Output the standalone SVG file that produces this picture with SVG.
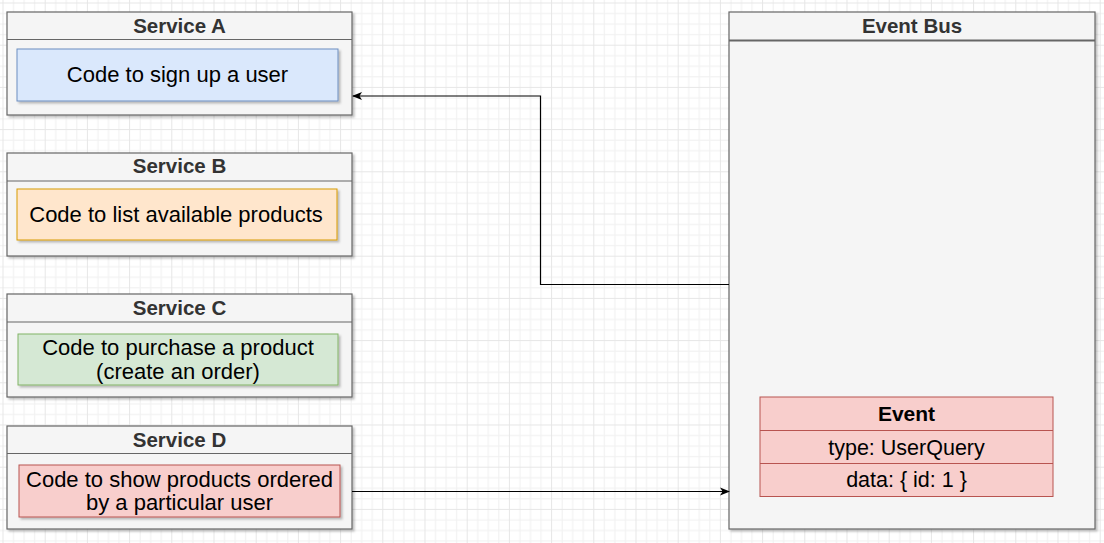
<svg xmlns="http://www.w3.org/2000/svg" width="1104" height="543" viewBox="0 0 1104 543">
  <defs>
    <pattern id="grid" x="2.5" y="2.5" width="42.2" height="42.2" patternUnits="userSpaceOnUse">
      <path d="M0 0.5H42.2M0 11.05H42.2M0 21.6H42.2M0 32.15H42.2" stroke="#f0f0f0" stroke-width="1" fill="none"/>
      <path d="M0.5 0V42.2M11.05 0V42.2M21.6 0V42.2M32.15 0V42.2" stroke="#f0f0f0" stroke-width="1" fill="none"/>
      <path d="M0 0.5H42.2M0.5 0V42.2" stroke="#e6e6e6" stroke-width="1" fill="none"/>
    </pattern>
    <filter id="shadow" x="-5%" y="-5%" width="112%" height="115%">
      <feDropShadow dx="2" dy="2" stdDeviation="1.2" flood-color="#000000" flood-opacity="0.25"/>
    </filter>
    <marker id="arrow" viewBox="0 0 10 10" refX="9" refY="5" markerWidth="10" markerHeight="10" markerUnits="userSpaceOnUse" orient="auto">
      <path d="M0 1 L10 5 L0 9 L2.5 5 Z" fill="#000000"/>
    </marker>
  </defs>
  <style>
    .outer { fill: #f5f5f5; stroke: #666666; stroke-width: 1.2; filter: url(#shadow); }
    .hdrline { stroke: #666666; stroke-width: 1.2; }
    .hdr { font-family: "Liberation Sans", Arial, sans-serif; font-size: 20.5px; font-weight: bold; fill: #333333; text-anchor: middle; }
    .body { font-family: "Liberation Sans", Arial, sans-serif; font-size: 22px; fill: #000000; text-anchor: middle; }
    .blue { fill: #dae8fc; stroke: #6c8ebf; stroke-width: 1; filter: url(#shadow); }
    .orange { fill: #ffe6cc; stroke: #d79b00; stroke-width: 1; filter: url(#shadow); }
    .green { fill: #d5e8d4; stroke: #82b366; stroke-width: 1; filter: url(#shadow); }
    .red { fill: #f8cecc; stroke: #b85450; stroke-width: 1; filter: url(#shadow); }
    .redplain { fill: #f8cecc; stroke: #b85450; stroke-width: 1; }
    .conn { fill: none; stroke: #000000; stroke-width: 1.2; }
  </style>
  <rect width="1104" height="543" fill="#ffffff"/>
  <rect width="1104" height="543" fill="url(#grid)"/>

  <g id="service-a">
    <rect class="outer" x="7" y="12" width="345" height="103"/>
    <line class="hdrline" x1="7" y1="39.5" x2="352" y2="39.5"/>
    <text class="hdr" x="179.5" y="32.5">Service A</text>
    <rect class="blue" x="17" y="49" width="321" height="52"/>
    <text class="body" x="177.5" y="82">Code to sign up a user</text>
  </g>

  <g id="service-b">
    <rect class="outer" x="7" y="153" width="345" height="103"/>
    <line class="hdrline" x1="7" y1="181" x2="352" y2="181"/>
    <text class="hdr" x="179.5" y="173">Service B</text>
    <rect class="orange" x="17" y="189" width="320" height="51"/>
    <text class="body" x="176" y="221.5">Code to list available products</text>
  </g>

  <g id="service-c">
    <rect class="outer" x="7" y="294" width="345" height="103"/>
    <line class="hdrline" x1="7" y1="322" x2="352" y2="322"/>
    <text class="hdr" x="179.5" y="314.5">Service C</text>
    <rect class="green" x="18" y="334" width="320" height="51"/>
    <text class="body" x="178" y="355">Code to purchase a product</text>
    <text class="body" x="178" y="379">(create an order)</text>
  </g>

  <g id="service-d">
    <rect class="outer" x="7" y="426" width="345" height="103"/>
    <line class="hdrline" x1="7" y1="453.5" x2="352" y2="453.5"/>
    <text class="hdr" x="179.5" y="446.5">Service D</text>
    <rect class="red" x="19" y="465" width="321" height="52"/>
    <text class="body" x="179.5" y="487">Code to show products ordered</text>
    <text class="body" x="179.5" y="510">by a particular user</text>
  </g>

  <g id="event-bus">
    <rect class="outer" x="729" y="12" width="366" height="517"/>
    <line x1="729" y1="40.5" x2="1095" y2="40.5" stroke="#666666" stroke-width="2.2"/>
    <text class="hdr" x="912" y="33">Event Bus</text>
  </g>

  <g id="event">
    <rect class="redplain" x="760" y="397" width="293" height="99.5"/>
    <line x1="760" y1="430.5" x2="1053" y2="430.5" stroke="#b85450" stroke-width="1"/>
    <line x1="760" y1="463.5" x2="1053" y2="463.5" stroke="#b85450" stroke-width="1"/>
    <text class="hdr" x="906.5" y="421" style="fill:#000000;font-size:21px">Event</text>
    <text class="body" x="906.5" y="454.5" style="font-size:21.5px">type: UserQuery</text>
    <text class="body" x="906.5" y="487" style="font-size:21.5px">data: { id: 1 }</text>
  </g>

  <g id="connectors">
    <polyline class="conn" points="729,284.5 540.5,284.5 540.5,96 353,96" marker-end="url(#arrow)"/>
    <line class="conn" x1="352" y1="491.5" x2="729" y2="491.5" marker-end="url(#arrow)"/>
  </g>
</svg>
